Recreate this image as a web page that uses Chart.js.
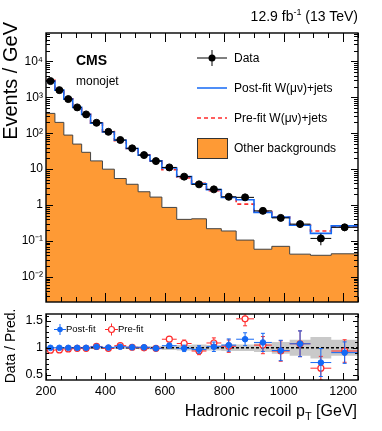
<!DOCTYPE html>
<html>
<head>
<meta charset="utf-8">
<script src="https://cdn.jsdelivr.net/npm/chart.js@4.4.1/dist/chart.umd.min.js"></script>
<style>
    body { margin: 0; background: #fff; }
    #wrap { position: relative; width: 382px; height: 431px; overflow: hidden;
            font-family: "Liberation Sans", Arial, Helvetica, sans-serif; color: #000; }
    #wrap canvas { position: absolute; left: 0; }
    .t { position: absolute; white-space: nowrap; }
    .rot { position: absolute; white-space: nowrap; transform-origin: 0 0; transform: rotate(-90deg); }
    sup, sub { line-height: 0; }
</style>
</head>
<body>
<div id="wrap">
    <canvas id="mainChart" width="382" height="313" style="top:0"></canvas>
    <canvas id="ratioChart" width="382" height="131" style="top:300px"></canvas>

    <div class="t" style="right:24px; top:8px; font-size:14px; line-height:16px;">12.9 fb<sup style="font-size:9px">-1</sup> (13 TeV)</div>
    <div class="t" style="left:76px; top:53px; font-size:14px; line-height:14px; font-weight:bold;">CMS</div>
    <div class="t" style="left:76px; top:75px; font-size:12px; line-height:12px;">monojet</div>

    <div class="t" style="left:234px; top:52px; font-size:12px; line-height:12px;">Data</div>
    <div class="t" style="left:234px; top:82px; font-size:12px; line-height:12px;">Post-fit W(&mu;&nu;)+jets</div>
    <div class="t" style="left:234px; top:112px; font-size:12px; line-height:12px;">Pre-fit W(&mu;&nu;)+jets</div>
    <div class="t" style="left:234px; top:142px; font-size:12px; line-height:12px;">Other backgrounds</div>

    <div class="t" style="left:66px; top:324px; font-size:9.5px; line-height:10px;">Post-fit</div>
    <div class="t" style="left:118px; top:324px; font-size:9.5px; line-height:10px;">Pre-fit</div>

    <div class="rot" style="left:0px; top:222px; width:200px; text-align:right; font-size:20px; line-height:20px;">Events / GeV</div>
    <div class="rot" style="left:3px; top:446px; width:200px; text-align:center; font-size:14px; line-height:14px;">Data / Pred.</div>
    <div class="t" style="right:25px; top:403px; font-size:16px; line-height:16px;">Hadronic recoil p<sub style="font-size:11px">T</sub> [GeV]</div>
</div>

<script>
// bin edges of the hadronic recoil distribution (GeV)
const binEdges = [200, 230, 260, 290, 320, 350, 390, 430, 470, 510, 550, 590, 640, 690, 740, 790, 840, 900, 960, 1020, 1090, 1160, 1250];

// main panel (events / GeV)
const dataValues = [2840, 1590, 895, 526, 335, 196, 110, 65, 38, 24.7, 16.8, 11.2, 6.2, 3.78, 2.74, 1.70, 1.64, 0.69, 0.44, 0.295, 0.118, 0.24];
const dataErrors = [9, 7, 5.4, 4.2, 3.4, 2.5, 1.8, 1.3, 1.0, 0.8, 0.65, 0.47, 0.35, 0.28, 0.23, 0.18, 0.165, 0.11, 0.086, 0.065, 0.042, 0.052];
const postFitValues = [2840, 1590, 895, 526, 335, 192, 109, 63.7, 37.6, 24.5, 17.0, 10.8, 6.26, 3.90, 2.69, 1.62, 1.41, 0.627, 0.463, 0.274, 0.163, 0.264];
const preFitValues = [2970, 1656, 913, 531, 338, 191, 111, 62.5, 37.6, 24.7, 17.0, 9.66, 5.74, 4.02, 2.51, 1.65, 1.065, 0.657, 0.468, 0.274, 0.19, 0.255];
const otherBkgValues = [358, 201, 89, 50, 29.5, 17, 10, 5.5, 3.8, 2.35, 1.67, 0.86, 0.40, 0.415, 0.22, 0.19, 0.106, 0.059, 0.071, 0.043, 0.040, 0.044];

// ratio panel (data / prediction)
const ratioPostFit = [1.0, 1.0, 1.0, 1.0, 1.0, 1.02, 1.006, 1.02, 1.01, 1.01, 0.99, 1.04, 0.99, 0.97, 1.02, 1.05, 1.16, 1.10, 0.95, 1.075, 0.725, 0.91];
const ratioPostFitErr = [0.004, 0.005, 0.006, 0.008, 0.01, 0.013, 0.018, 0.02, 0.026, 0.032, 0.04, 0.044, 0.06, 0.07, 0.088, 0.115, 0.12, 0.17, 0.19, 0.24, 0.26, 0.2];
const ratioPreFit = [0.956, 0.96, 0.98, 0.99, 0.99, 1.025, 0.99, 1.04, 1.01, 1.0, 0.99, 1.16, 1.08, 0.94, 1.09, 1.03, 1.54, 1.05, 0.94, 1.075, 0.62, 0.94];
const ratioPreFitErr = [0.004, 0.005, 0.006, 0.008, 0.01, 0.013, 0.018, 0.021, 0.026, 0.032, 0.04, 0.05, 0.065, 0.068, 0.095, 0.115, 0.13, 0.16, 0.19, 0.24, 0.22, 0.21];
const bandHalfWidth = [0.01, 0.01, 0.01, 0.012, 0.013, 0.015, 0.018, 0.02, 0.022, 0.025, 0.03, 0.04, 0.05, 0.06, 0.05, 0.06, 0.06, 0.08, 0.11, 0.15, 0.2, 0.15];

// tick labels
const xTickValues = [200, 400, 600, 800, 1000, 1200];
const xTickLabels = ['200', '400', '600', '800', '1000', '1200'];
const yTickValues = [0.01, 0.1, 1, 10, 100, 1000, 10000];
const yTickLabels = ['10\u207B\u00B2', '10\u207B\u00B9', '1', '10', '10\u00B2', '10\u00B3', '10\u2074'];
const ratioTickValues = [0.5, 1, 1.5];
const ratioTickLabels = ['0.5', '1', '1.5'];

const FONT = '"Liberation Sans", Arial, Helvetica, sans-serif';
const BLUE = '#1569f5';
const RED = '#ff2b2b';
const ORANGE = '#fe9a35';

Chart.defaults.font.family = FONT;
Chart.defaults.color = '#000';

// histogram outline: one point per lower edge plus the last upper edge
function stepPoints(values) {
    const pts = values.map((v, i) => ({ x: binEdges[i], y: v }));
    pts.push({ x: binEdges[binEdges.length - 1], y: values[values.length - 1] });
    return pts;
}

function centerPoints(values) {
    return values.map((v, i) => ({ x: (binEdges[i] + binEdges[i + 1]) / 2, y: v }));
}

// error bars, drawn just before the markers of a dataset
const errorBars = {
    id: 'errorBars',
    beforeDatasetDraw(chart, args) {
        const ds = chart.data.datasets[args.index];
        if (!ds.yErr) return;
        const { ctx, chartArea: a } = chart;
        const xs = chart.scales.x, ys = chart.scales.y;
        ctx.save();
        ctx.beginPath();
        ctx.rect(a.left, a.top, a.right - a.left, a.bottom - a.top);
        ctx.clip();
        ctx.strokeStyle = ds.errColor;
        ctx.lineWidth = 1;
        ctx.beginPath();
        ds.data.forEach((p, i) => {
            const xl = xs.getPixelForValue(binEdges[i]);
            const xr = xs.getPixelForValue(binEdges[i + 1]);
            const xc = xs.getPixelForValue(p.x);
            const yc = ys.getPixelForValue(p.y);
            const lo = Math.max(p.y - ds.yErr[i], ys.min);
            const yHi = ys.getPixelForValue(p.y + ds.yErr[i]);
            const yLo = ys.getPixelForValue(lo);
            ctx.moveTo(xl, yc); ctx.lineTo(xr, yc);
            ctx.moveTo(xc, yHi); ctx.lineTo(xc, yLo);
            if (ds.errCap) {
                ctx.moveTo(xc - ds.errCap, yHi); ctx.lineTo(xc + ds.errCap, yHi);
                ctx.moveTo(xc - ds.errCap, yLo); ctx.lineTo(xc + ds.errCap, yLo);
            }
        });
        ctx.stroke();
        ctx.restore();
    }
};

// ROOT-like frame with inward ticks on all four sides
const frameTicks = {
    id: 'frameTicks',
    afterDraw(chart, args, opts) {
        const { ctx, chartArea: a } = chart;
        const xs = chart.scales.x, ys = chart.scales.y;
        ctx.save();
        ctx.strokeStyle = '#000';
        ctx.lineWidth = 1;
        ctx.beginPath();
        for (let v = 200; v <= 1250; v += 50) {
            const p = Math.round(xs.getPixelForValue(v)) + 0.5;
            const len = v % 200 === 0 ? opts.xMajor : opts.xMinor;
            ctx.moveTo(p, a.bottom); ctx.lineTo(p, a.bottom - len);
            ctx.moveTo(p, a.top); ctx.lineTo(p, a.top + len);
        }
        opts.yTicks(ys).forEach(t => {
            const p = Math.round(ys.getPixelForValue(t.v)) + 0.5;
            if (p < a.top || p > a.bottom) return;
            const len = t.major ? opts.yMajor : opts.yMinor;
            ctx.moveTo(a.left, p); ctx.lineTo(a.left + len, p);
            ctx.moveTo(a.right, p); ctx.lineTo(a.right - len, p);
        });
        ctx.stroke();
        ctx.lineWidth = 1.4;
        ctx.strokeRect(a.left, a.top, a.right - a.left, a.bottom - a.top);
        ctx.restore();
    }
};

function logTicks(ys) {
    const out = [];
    for (let e = -3; e <= 4; e++) {
        for (let k = 1; k <= 9; k++) {
            const v = k * Math.pow(10, e);
            if (v >= ys.min && v <= ys.max) out.push({ v: v, major: k === 1 });
        }
    }
    return out;
}

function ratioTicks() {
    const out = [];
    for (let i = 4; i <= 16; i++) out.push({ v: i / 10, major: i % 5 === 0 });
    return out;
}

// legend symbols of the main panel
const mainLegend = {
    id: 'mainLegend',
    afterDraw(chart) {
        const ctx = chart.ctx;
        ctx.save();
        ctx.strokeStyle = '#000';
        ctx.lineWidth = 1;
        ctx.beginPath();
        ctx.moveTo(197, 58); ctx.lineTo(227, 58);
        ctx.moveTo(212, 50); ctx.lineTo(212, 66);
        ctx.stroke();
        ctx.fillStyle = '#000';
        ctx.beginPath();
        ctx.arc(212, 58, 3.5, 0, Math.PI * 2);
        ctx.fill();

        ctx.lineWidth = 1.5;
        ctx.strokeStyle = BLUE;
        ctx.beginPath();
        ctx.moveTo(197, 88); ctx.lineTo(227, 88);
        ctx.stroke();

        ctx.strokeStyle = RED;
        ctx.setLineDash([4, 3]);
        ctx.beginPath();
        ctx.moveTo(197, 118); ctx.lineTo(227, 118);
        ctx.stroke();
        ctx.setLineDash([]);

        ctx.fillStyle = ORANGE;
        ctx.fillRect(197, 138, 31, 21);
        ctx.strokeStyle = '#333';
        ctx.lineWidth = 1;
        ctx.strokeRect(197.5, 138.5, 30, 20);
        ctx.restore();
    }
};

// legend symbols of the ratio panel
const ratioLegend = {
    id: 'ratioLegend',
    afterDraw(chart) {
        const ctx = chart.ctx;
        ctx.save();
        ctx.lineWidth = 1;
        ctx.strokeStyle = BLUE;
        ctx.beginPath();
        ctx.moveTo(54, 29.5); ctx.lineTo(66, 29.5);
        ctx.moveTo(60, 24); ctx.lineTo(60, 35);
        ctx.stroke();
        ctx.fillStyle = BLUE;
        ctx.beginPath();
        ctx.arc(60, 29.5, 2.8, 0, Math.PI * 2);
        ctx.fill();

        ctx.strokeStyle = RED;
        ctx.beginPath();
        ctx.moveTo(105, 29.5); ctx.lineTo(118, 29.5);
        ctx.moveTo(111.5, 23.5); ctx.lineTo(111.5, 35.5);
        ctx.stroke();
        ctx.fillStyle = '#fff';
        ctx.lineWidth = 1.2;
        ctx.beginPath();
        ctx.arc(111.5, 29.5, 3, 0, Math.PI * 2);
        ctx.fill();
        ctx.stroke();
        ctx.restore();
    }
};

const mainChart = new Chart(document.getElementById('mainChart').getContext('2d'), {
    type: 'line',
    data: {
        datasets: [
            {
                label: 'Data',
                data: centerPoints(dataValues),
                yErr: dataErrors,
                errColor: '#000',
                showLine: false,
                pointRadius: 3.5,
                pointBackgroundColor: '#000',
                pointBorderColor: '#000',
                order: 0
            },
            {
                label: 'Post-fit W(\u03BC\u03BD)+jets',
                data: stepPoints(postFitValues),
                stepped: 'before',
                borderColor: BLUE,
                borderWidth: 1.6,
                pointRadius: 0,
                fill: false,
                order: 1
            },
            {
                label: 'Pre-fit W(\u03BC\u03BD)+jets',
                data: stepPoints(preFitValues),
                stepped: 'before',
                borderColor: RED,
                borderDash: [4, 3],
                borderWidth: 1.6,
                pointRadius: 0,
                fill: false,
                order: 2
            },
            {
                label: 'Other backgrounds',
                data: stepPoints(otherBkgValues),
                stepped: 'before',
                borderColor: '#444',
                borderWidth: 1,
                backgroundColor: ORANGE,
                pointRadius: 0,
                fill: 'start',
                order: 3
            }
        ]
    },
    options: {
        responsive: false,
        animation: false,
        events: [],
        layout: { padding: { top: 33, right: 24, left: 0, bottom: 0 } },
        scales: {
            x: {
                type: 'linear',
                min: 200,
                max: 1250,
                ticks: { display: false },
                grid: { display: false, drawTicks: false },
                border: { display: false },
                // reserve room below the frame so the y labels do not shrink the plot
                afterFit: s => { s.height = 11; }
            },
            y: {
                type: 'logarithmic',
                min: 0.002,
                max: 62000,
                afterBuildTicks: s => { s.ticks = yTickValues.map(v => ({ value: v })); },
                ticks: {
                    autoSkip: false,
                    padding: 3,
                    font: { size: 12 },
                    callback: v => yTickLabels[yTickValues.indexOf(v)]
                },
                grid: { display: false, drawTicks: false },
                border: { display: false },
                afterFit: s => { s.width = 46; }
            }
        },
        plugins: {
            legend: { display: false },
            tooltip: { enabled: false },
            frameTicks: { xMajor: 9, xMinor: 5, yMajor: 7, yMinor: 4, yTicks: logTicks }
        }
    },
    plugins: [errorBars, frameTicks, mainLegend]
});

const bandUpper = bandHalfWidth.map(h => 1 + h);
const bandLower = bandHalfWidth.map(h => 1 - h);

const ratioChart = new Chart(document.getElementById('ratioChart').getContext('2d'), {
    type: 'line',
    data: {
        datasets: [
            {
                label: 'band up',
                data: stepPoints(bandUpper),
                stepped: 'before',
                borderWidth: 0,
                borderColor: 'rgba(0,0,0,0)',
                backgroundColor: '#c9c9c9',
                pointRadius: 0,
                fill: '+1',
                order: 5
            },
            {
                label: 'band down',
                data: stepPoints(bandLower),
                stepped: 'before',
                borderWidth: 0,
                borderColor: 'rgba(0,0,0,0)',
                pointRadius: 0,
                fill: false,
                order: 5
            },
            {
                label: 'unity',
                data: [{ x: 200, y: 1 }, { x: 1250, y: 1 }],
                borderColor: '#000',
                borderDash: [3, 2],
                borderWidth: 1.5,
                pointRadius: 0,
                fill: false,
                order: 4
            },
            {
                label: 'Pre-fit',
                data: centerPoints(ratioPreFit),
                yErr: ratioPreFitErr,
                errColor: RED,
                errCap: 2,
                showLine: false,
                pointRadius: 3,
                pointBorderWidth: 1.2,
                pointBackgroundColor: '#fff',
                pointBorderColor: RED,
                order: 3
            },
            {
                label: 'Post-fit',
                data: centerPoints(ratioPostFit),
                yErr: ratioPostFitErr,
                errColor: BLUE,
                errCap: 2,
                showLine: false,
                pointRadius: 2.8,
                pointBackgroundColor: BLUE,
                pointBorderColor: BLUE,
                order: 2
            }
        ]
    },
    options: {
        responsive: false,
        animation: false,
        events: [],
        layout: { padding: { top: 14, right: 24, left: 0, bottom: 0 } },
        scales: {
            x: {
                type: 'linear',
                min: 200,
                max: 1250,
                afterBuildTicks: s => { s.ticks = xTickValues.map(v => ({ value: v })); },
                ticks: {
                    autoSkip: false,
                    maxRotation: 0,
                    padding: 4,
                    font: { size: 12.5 },
                    callback: v => xTickLabels[xTickValues.indexOf(v)]
                },
                grid: { display: false, drawTicks: false },
                border: { display: false },
                afterFit: s => { s.height = 51; }
            },
            y: {
                type: 'linear',
                min: 0.4,
                max: 1.63,
                afterBuildTicks: s => { s.ticks = ratioTickValues.map(v => ({ value: v })); },
                ticks: {
                    autoSkip: false,
                    padding: 3,
                    font: { size: 12.5 },
                    callback: v => ratioTickLabels[ratioTickValues.indexOf(v)]
                },
                grid: { display: false, drawTicks: false },
                border: { display: false },
                afterFit: s => { s.width = 46; }
            }
        },
        plugins: {
            legend: { display: false },
            tooltip: { enabled: false },
            frameTicks: { xMajor: 7, xMinor: 4, yMajor: 5, yMinor: 3, yTicks: ratioTicks }
        }
    },
    plugins: [errorBars, frameTicks, ratioLegend]
});
</script>
</body>
</html>
